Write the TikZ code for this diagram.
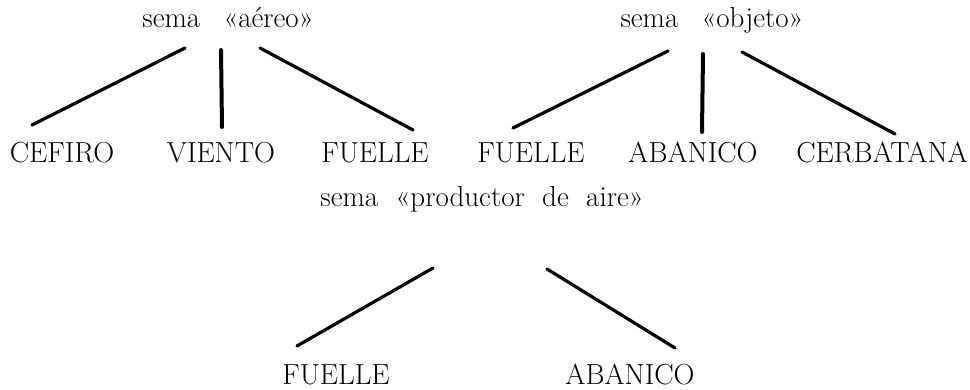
\documentclass[tikz,border=0pt]{standalone}
\usepackage{tikz}
\usetikzlibrary{calc,positioning}

\newcommand{\semafont}{\fontsize{29pt}{34pt}\selectfont\spaceskip=.8em plus .1em\relax}
\newcommand{\airefont}{\fontsize{29pt}{34pt}\selectfont\spaceskip=.6em plus .1em\relax}

\begin{document}
\begin{tikzpicture}[x=1pt,y=1pt,line cap=round,
sema/.style={anchor=base,inner sep=0pt,font=\semafont},
lexema/.style={anchor=base,inner sep=0pt,font=\fontsize{29pt}{34pt}\selectfont},
rasgo/.style={line width=3.2pt},
tronco/.style={line width=4pt}]
\useasboundingbox (0,0) rectangle (970,390);
\node[sema] (aereo) at (228,362) {sema «aéreo»};
\node[sema] (objeto) at (712,362) {sema «objeto»};
\node[lexema] (cefiro) at (62,227) {CEFIRO};
\node[lexema] (viento) at (221,227) {VIENTO};
\node[lexema] (fuelleA) at (375,227) {FUELLE};
\node[lexema] (fuelleB) at (531,227) {FUELLE};
\node[lexema] (abanicoA) at (693,227) {ABANICO};
\node[lexema] (cerbatana) at (882,227) {CERBATANA};
\node[sema,font=\airefont] (productor) at (482,183) {sema «productor de aire»};
\node[lexema] (fuelleC) at (336,5) {FUELLE};
\node[lexema] (abanicoC) at (630,5) {ABANICO};
% sema aereo
\draw[rasgo] ($(aereo.base)+(-43,-20)$) -- ($(cefiro.base)+(-30,38)$);
\draw[tronco] ($(aereo.base)+(-7,-22)$) -- ($(viento.base)+(1,36)$);
\draw[rasgo] ($(aereo.base)+(32,-20)$) -- ($(fuelleA.base)+(38,33)$);
% sema objeto
\draw[rasgo] ($(objeto.base)+(-44,-23)$) -- ($(fuelleB.base)+(-18,35)$);
\draw[tronco] ($(objeto.base)+(-9,-26)$) -- ($(abanicoA.base)+(9,31)$);
\draw[rasgo] ($(objeto.base)+(30,-24)$) -- ($(cerbatana.base)+(13,29)$);
% sema productor de aire
\draw[rasgo] ($(productor.base)+(-49,-61)$) -- ($(fuelleC.base)+(-39,39)$);
\draw[rasgo] ($(productor.base)+(65,-62)$) -- ($(abanicoC.base)+(45,37)$);
\end{tikzpicture}
\end{document}
